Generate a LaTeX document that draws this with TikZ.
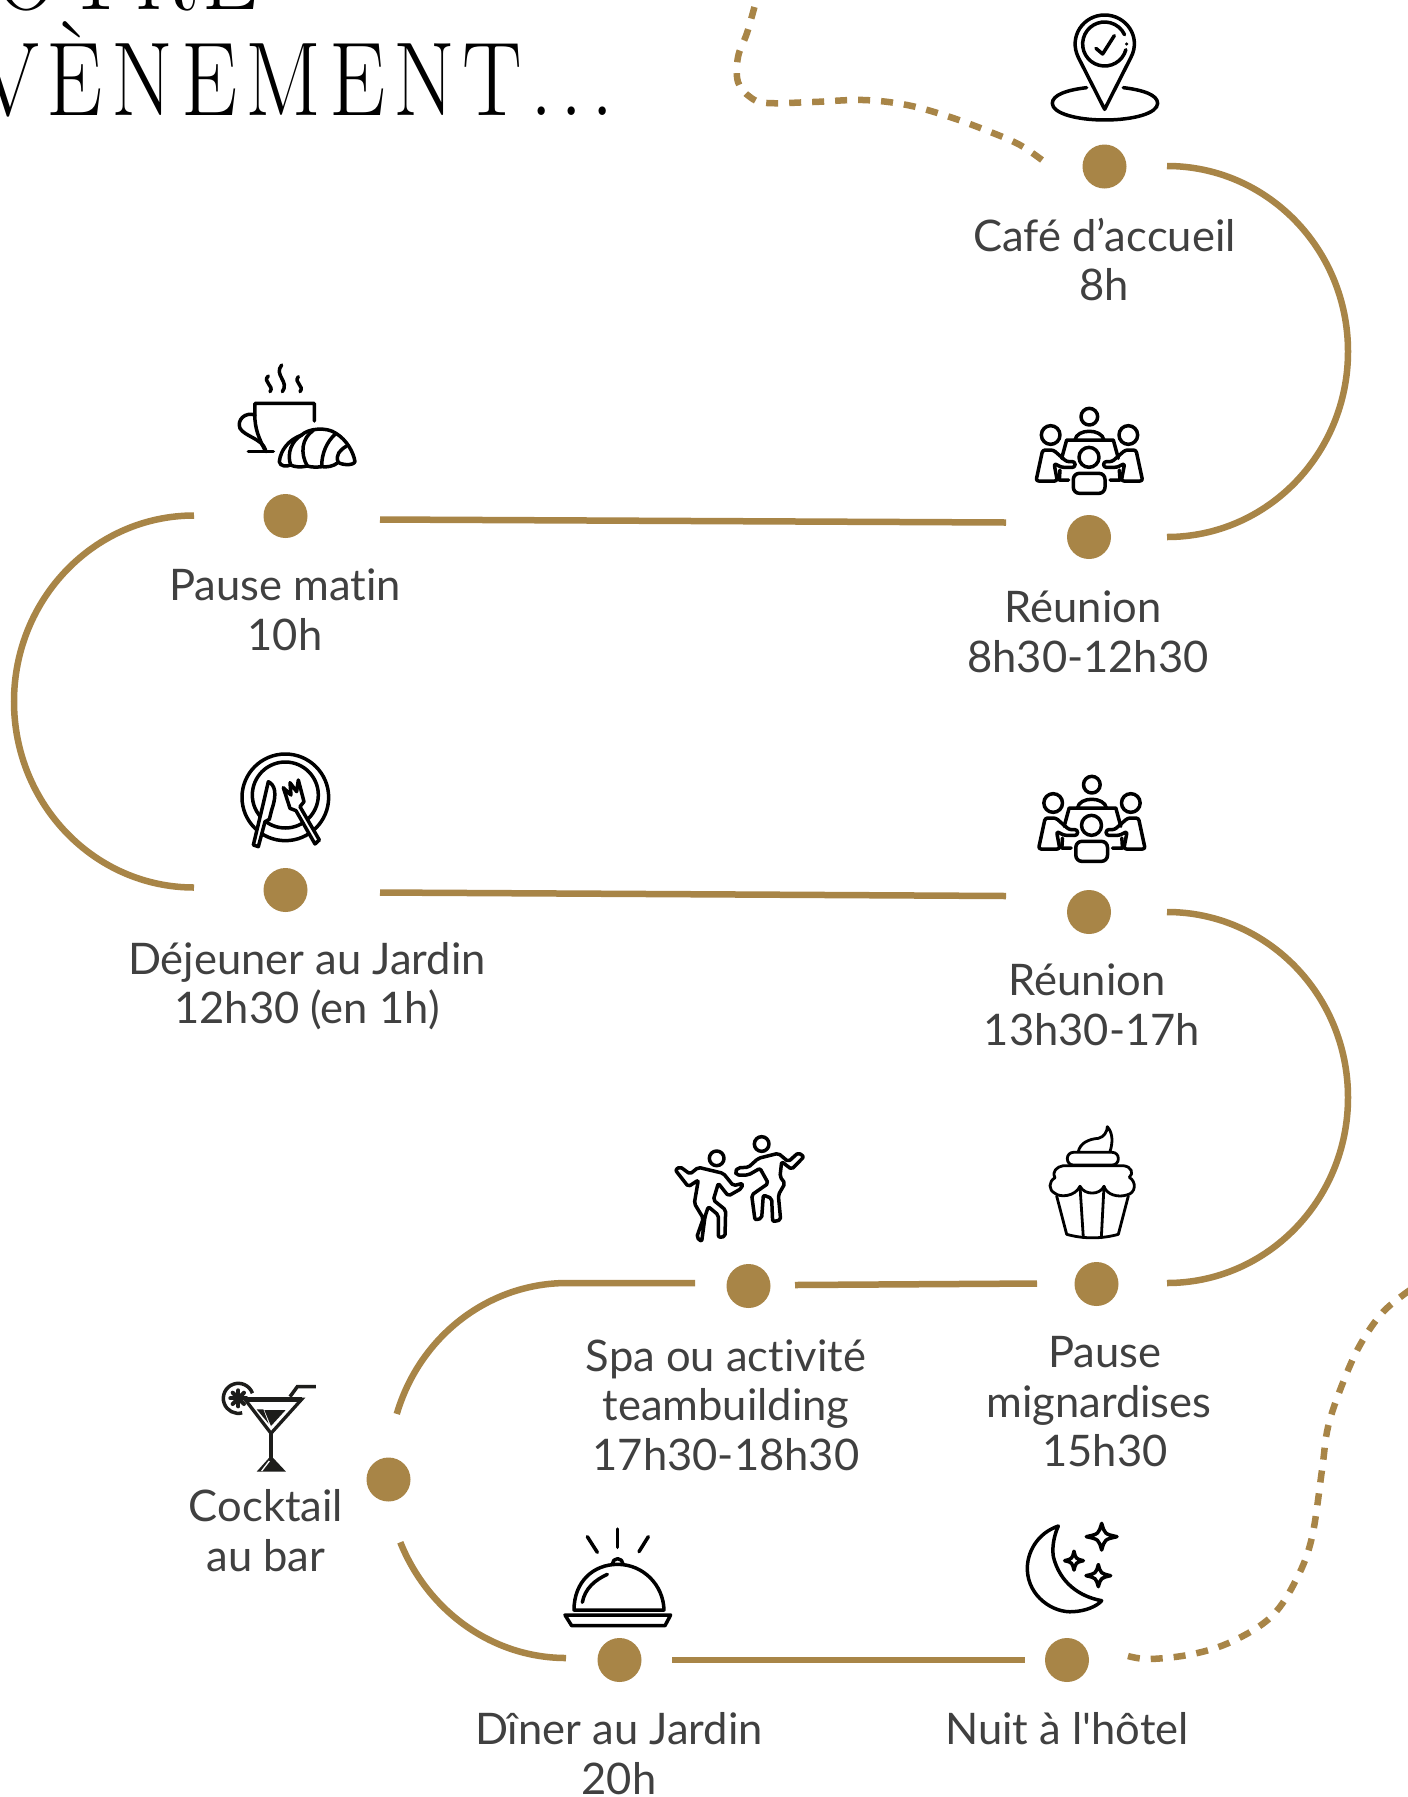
\documentclass[tikz,border=0pt]{standalone}
\usepackage{graphicx}
\usepackage{fontspec}
\setmainfont{Lato}
\newfontfamily\lblfont[Ligatures=NoCommon]{Lato}
\newfontfamily\titlefont[LetterSpace=9]{Latin Modern Roman}
\definecolor{gold}{HTML}{A88547}
\definecolor{labelgray}{HTML}{404040}
\definecolor{ink}{HTML}{1D1D1B}
\tikzset{
  dotnode/.style={circle,fill=gold,draw=none,minimum size=44pt,inner sep=0pt},
  link/.style={draw=gold,line width=6.5pt},
  dashlink/.style={draw=gold,line width=6.5pt,dash pattern=on 12pt off 11pt},
  lbl/.style={text=labelgray,align=center,font=\lblfont\fontsize{43.5}{49.5}\selectfont,inner sep=0pt},
  iconline/.style={draw=black,line width=3.5pt,line cap=round,line join=round},
  ttl/.style={anchor=base west,inner sep=0pt,text=black},
}
\newcommand{\titletext}[1]{\scalebox{0.85}[1]{\titlefont\fontsize{105}{105}\selectfont #1}}
\newcommand{\reunionicon}[2]{%
\begin{scope}[shift={(#1,#2)},scale=0.3333,iconline]
  \draw (208,65) circle[radius=25];
  \draw (92,120) circle[radius=28];
  \draw (325,120) circle[radius=28];
  \draw (165,135) .. controls (170,100) and (245,100) .. (252,135);
  \draw (125,190) -- (140,135) -- (280,135) -- (295,190);
  \draw (207,187) circle[radius=30];
  \draw[rounded corners=6pt] (160,235) rectangle (255,295);
  \draw[rounded corners=2.5pt] (48,258) -- (68,165) -- (100,165) -- (140,200) -- (165,200) -- (165,217) -- (125,217) -- (102,205) -- (112,258) -- cycle;
  \draw[rounded corners=2.5pt] (368,258) -- (348,165) -- (316,165) -- (276,200) -- (251,200) -- (251,217) -- (291,217) -- (314,205) -- (304,258) -- cycle;
  \draw (120,225) -- (118,255) -- (146,255);
  \draw (298,225) -- (300,255) -- (270,255);
\end{scope}}
\begin{document}
\begin{tikzpicture}[x=1pt,y=1pt,yscale=-1]
\useasboundingbox (0,0) rectangle (1408,1797);
\fill[white] (0,0) rectangle (1408,1797);
\begin{scope}
\clip (0,0) rectangle (1408,1797);
\node[ttl] (title1) at (-6,9) {\titletext{OTRE}};
\node[ttl] (title2) at (-23,115) {\titletext{VÈNEMENT...}};
\end{scope}

% stops
\node[dotnode] (cafe) at (1104.5,166.5) {};
\node[dotnode] (reu1) at (1089,537) {};
\node[dotnode] (pause) at (285.5,516) {};
\node[dotnode] (dej) at (285.5,890) {};
\node[dotnode] (reu2) at (1089,912) {};
\node[dotnode] (mign) at (1096.5,1284) {};
\node[dotnode] (spa) at (748.5,1286) {};
\node[dotnode] (cock) at (388.5,1479.5) {};
\node[dotnode] (diner) at (619.5,1660) {};
\node[dotnode] (nuit) at (1067,1660) {};

% labels
\node[lbl] (lcafe) at (1104.5,259.5) {Café d’accueil\\8h};
\node[lbl] (lreu1) at (1088,632) {Réunion\hspace*{10pt}\\8h30-12h30};
\node[lbl] (lpause) at (285,610) {Pause matin\\10h};
\node[lbl] (ldej) at (307,986) {Déjeuner au Jardin\\12h30 (en 1h)};
\node[lbl] (lreu2) at (1092,1005) {Réunion\hspace*{10pt}\\13h30-17h};
\node[lbl] (lspa) at (726,1405) {Spa ou activité\\teambuilding\\17h30-18h30};
\node[lbl] (lmign) at (1099,1402) {\hspace*{12pt}Pause\\mignardises\\\hspace*{12pt}15h30};
\node[lbl] (lcock) at (266,1530.5) {Cocktail\\au bar};
\node[lbl] (ldiner) at (619,1753.5) {Dîner au Jardin\\20h};
\node[lbl] (lnuit) at (1067,1729) {Nuit à l'hôtel};

% connector ends
\coordinate (a1) at (1167,166);
\coordinate (a2) at (194,515.5);
\coordinate (a3) at (1167,912);
\coordinate (b1) at (380,519.5); \coordinate (b2) at (1006,522.5);
\coordinate (c1) at (380,892.5); \coordinate (c2) at (1006,896);
\coordinate (d1) at (1037,1283.5); \coordinate (d2) at (795,1285);
\coordinate (e1) at (695,1283); \coordinate (e2) at (567,1283);
\coordinate (f1) at (566,1658);
\coordinate (g1) at (672,1660); \coordinate (g2) at (1025,1660);

\draw[link] (a1) arc[start angle=-90,end angle=90,x radius=181,y radius=185.5];
\draw[link] (b1) -- (b2);
\draw[link] (a2) arc[start angle=270,end angle=90,x radius=180,y radius=186];
\draw[link] (c1) -- (c2);
\draw[link] (a3) arc[start angle=-90,end angle=90,x radius=181,y radius=185.5];
\draw[link] (d1) -- (d2);
\draw[link] (e1) -- (e2) arc[start angle=270,end angle=197,x radius=178,y radius=185];
\draw[link] (f1) arc[start angle=90,end angle=157,x radius=180,y radius=190];
\draw[link] (g1) -- (g2);

% dashed trails
\draw[dashlink] plot[smooth,tension=0.6] coordinates {(1042,160) (1020,145) (993,133) (950,117) (907,105) (863,100) (813,102) (767,103) (750,97) (738,82) (738,57) (747,33) (755,5) (757,-3)};
\draw[dashlink] plot[smooth,tension=0.6] coordinates {(1128,1656) (1150,1659) (1193,1654) (1233,1641) (1272,1616) (1297,1578) (1312,1537) (1322,1470) (1328,1427) (1342,1385) (1360,1345) (1383,1312) (1410,1290)};

% pin icon
\begin{scope}[shift={(700,0)},scale=0.3333,iconline]
  \draw (1214,328) -- (1135,172) .. controls (1105,110) and (1150,45) .. (1214,45) .. controls (1278,45) and (1325,110) .. (1293,172) -- cycle;
  \draw (1214,132)++(15:66) arc[start angle=15,end angle=335,radius=66];
  \fill (1280,132) circle[radius=5];
  \draw (1188,145) -- (1208,162) -- (1243,107);
  \draw (1160,263) .. controls (1100,270) and (1057,285) .. (1057,310) .. controls (1057,340) and (1130,360) .. (1214,360) .. controls (1300,360) and (1373,340) .. (1373,310) .. controls (1373,285) and (1330,270) .. (1270,263);
\end{scope}

% coffee and croissant icon
\begin{scope}[shift={(220,350)},scale=0.3333,iconline]
  \draw (145,78) .. controls (125,95) and (165,108) .. (150,125);
  \draw (185,45) .. controls (160,75) and (210,95) .. (187,125);
  \draw (235,80) .. controls (220,98) and (255,108) .. (240,125);
  \draw (283,213) -- (283,160) -- (105,160) -- (105,210) .. controls (108,250) and (125,280) .. (137,305);
  \draw (105,195) .. controls (75,185) and (50,210) .. (60,235) .. controls (75,260) and (125,265) .. (137,300);
  \draw (85,305) -- (160,305);
  \draw (178,335) .. controls (182,300) and (205,270) .. (245,255) .. controls (265,235) and (320,230) .. (348,250) .. controls (380,270) and (400,305) .. (405,335) .. controls (400,348) and (365,345) .. (355,337) .. controls (340,350) and (320,352) .. (305,350) .. controls (290,352) and (275,352) .. (262,348) .. controls (245,352) and (225,352) .. (212,345) .. controls (200,350) and (180,350) .. (178,335) -- cycle;
  \draw (212,345) .. controls (200,310) and (215,272) .. (245,255);
  \draw (262,348) .. controls (240,310) and (245,265) .. (280,241);
  \draw (305,350) .. controls (305,310) and (320,275) .. (348,250);
  \draw (355,337) .. controls (345,315) and (360,300) .. (380,288);
\end{scope}

% meeting icons
\reunionicon{1020}{395}
\reunionicon{1022.5}{763}

% plate icon
\begin{scope}[shift={(230,740)},scale=0.3333,iconline]
  \draw (166,172) circle[radius=130];
  \draw (166,165) circle[radius=99];
  \filldraw[fill=white] (115,125) .. controls (135,135) and (142,160) .. (125,210) -- (118,238) -- (105,245) -- (85,320) -- (70,315) -- (100,190) -- cycle;
  \filldraw[fill=white] (160,143) -- (183,165) -- (180,128) -- (200,155) -- (205,120) -- (222,185) -- (210,200) -- (268,300) -- (255,312) -- (198,212) -- (180,205) -- cycle;
\end{scope}

% dancers icon
\begin{scope}[shift={(660,1120)},scale=0.3333,iconline]
  \draw (170,115) circle[radius=22];
  \draw[rounded corners=2pt] (46,150) -- (60,140) -- (90,162) -- (115,142) -- (190,160) -- (220,197) -- (248,190) -- (245,205) -- (205,228) -- (175,190) -- (160,240) -- (197,270) -- (195,350) -- (175,352) -- (175,285) -- (145,260) -- (135,290) -- (125,365) -- (110,352) -- (130,295) -- (103,250) -- (115,180) -- (85,200) -- cycle;
  \draw (305,72) circle[radius=22];
  \draw[rounded corners=2pt] (225,155) -- (235,143) -- (265,142) -- (295,115) -- (355,100) -- (385,125) -- (415,98) -- (432,110) -- (395,148) -- (365,125) -- (360,170) -- (375,190) -- (355,225) -- (362,300) -- (338,305) -- (335,235) -- (310,225) -- (305,295) -- (285,300) -- (275,225) -- (325,190) -- (300,145) -- (265,165) -- (230,165) -- cycle;
\end{scope}

% cupcake icon
\begin{scope}[shift={(1030,1115)},scale=0.3333,iconline,line width=2.8pt]
  \draw (145,110) .. controls (150,85) and (175,72) .. (205,70) .. controls (222,66) and (232,50) .. (232,35) .. controls (250,55) and (248,85) .. (240,110);
  \draw[rounded corners=6pt] (112,112) rectangle (265,150);
  \draw (100,152) -- (280,152) .. controls (305,155) and (312,175) .. (298,187) .. controls (320,200) and (318,235) .. (290,240) .. controls (265,248) and (230,240) .. (222,214) .. controls (210,240) and (165,242) .. (150,214) .. controls (135,245) and (90,248) .. (75,235) .. controls (55,225) and (55,200) .. (75,188) .. controls (65,170) and (80,155) .. (100,152) -- cycle;
  \draw (80,243) -- (110,358) .. controls (160,372) and (215,372) .. (265,358) -- (295,243);
  \draw (150,214) -- (160,368);
  \draw (222,214) -- (214,368);
\end{scope}

% cocktail icon
\begin{scope}[shift={(210,1365)},scale=0.3333,draw=ink,line join=miter]
  \draw[line width=3.3pt] (105,103) -- (275,103) -- (183,205) -- cycle;
  \draw[line width=5pt] (105,103) -- (275,103);
  \fill[ink] (163,135) -- (227,135) -- (183,183) -- cycle;
  \fill[ink] (140,133) -- (160,133) -- (176,176) -- cycle;
  \draw[line width=4pt] (183,205) -- (183,280);
  \fill[ink] (183,272) -- (228,320) -- (140,320) -- cycle;
  \draw[white,line width=1.3pt] (178,288) -- (155,318);
  \draw[line width=3.5pt] (240,95) -- (262,65) -- (318,65);
  \draw[line width=3.5pt] (85,100)++(-20:45) arc[start angle=-20,end angle=-285,radius=45];
  \foreach \a in {0,45,...,315}{\draw[line width=4pt,line cap=round] (85,100) -- ++(\a:24);}
\end{scope}

% cloche icon
\begin{scope}[shift={(550,1515)},scale=0.3333,iconline]
  \draw (112,65) -- (142,112);
  \draw (203,42) -- (203,97);
  \draw (295,65) -- (267,110);
  \draw (187,147) arc[start angle=180,end angle=360,radius=16];
  \draw (72,285) .. controls (72,200) and (130,148) .. (203,148) .. controls (280,148) and (340,210) .. (342,285) -- cycle;
  \draw (97,262) .. controls (105,220) and (135,195) .. (172,178);
  \draw (45,300) -- (362,300) -- (345,332) -- (65,332) -- cycle;
\end{scope}

% moon icon
\begin{scope}[shift={(1010,1510)},scale=0.3333,iconline]
  \draw (145,48) .. controls (80,70) and (50,130) .. (52,180) .. controls (55,260) and (130,310) .. (190,305) .. controls (225,303) and (260,290) .. (275,272) .. controls (210,260) and (150,220) .. (130,140) .. controls (125,105) and (135,70) .. (145,48) -- cycle;
  \foreach \cx/\cy/\rx/\ry in {275/80/46/40, 192/152/28/28, 265/197/37/33}{
    \draw (\cx,\cy-\ry) .. controls (\cx+0.2*\rx,\cy-0.2*\ry) .. (\cx+\rx,\cy) .. controls (\cx+0.2*\rx,\cy+0.2*\ry) .. (\cx,\cy+\ry) .. controls (\cx-0.2*\rx,\cy+0.2*\ry) .. (\cx-\rx,\cy) .. controls (\cx-0.2*\rx,\cy-0.2*\ry) .. cycle;
  }
\end{scope}
\end{tikzpicture}
\end{document}
